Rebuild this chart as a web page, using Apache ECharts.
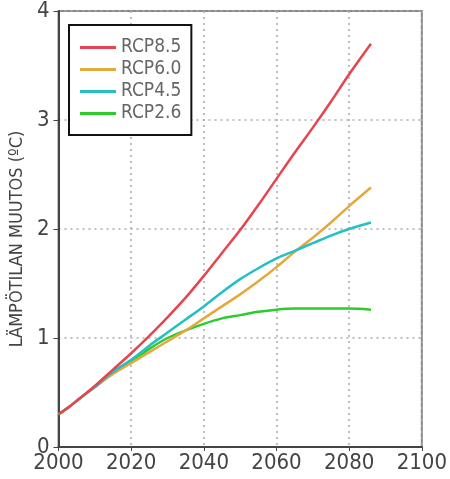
<!DOCTYPE html>
<html>
<head>
<meta charset="utf-8">
<script src="https://cdn.jsdelivr.net/npm/echarts@6/dist/echarts.min.js"></script>
<style>
  html, body { margin: 0; padding: 0; background: #fff; }
  #chart { width: 450px; height: 479px; }
</style>
</head>
<body>
<div id="chart"></div>
<script>
// vuodet ja lämpötilan muutos (ºC) skenaarioittain
const years = [2000, 2003, 2006, 2010, 2015, 2020, 2025, 2030, 2035, 2040, 2045, 2050, 2055, 2060, 2065, 2070, 2075, 2080, 2086]
const rcp85 = [0.30, 0.37, 0.45, 0.56, 0.71, 0.86, 1.02, 1.19, 1.37, 1.57, 1.78, 1.99, 2.22, 2.46, 2.70, 2.93, 3.17, 3.42, 3.70]
const rcp60 = [0.30, 0.37, 0.45, 0.55, 0.67, 0.77, 0.87, 0.97, 1.07, 1.18, 1.29, 1.40, 1.52, 1.65, 1.79, 1.92, 2.06, 2.21, 2.38]
const rcp45 = [0.30, 0.37, 0.45, 0.55, 0.69, 0.80, 0.93, 1.05, 1.17, 1.29, 1.42, 1.54, 1.64, 1.73, 1.80, 1.87, 1.94, 2.00, 2.06]
const rcp26 = [0.30, 0.37, 0.45, 0.55, 0.68, 0.78, 0.90, 1.00, 1.07, 1.13, 1.18, 1.21, 1.24, 1.26, 1.27, 1.27, 1.27, 1.27, 1.26]
const yTicks = ['0', '1', '2', '3', '4']
const xTicks = ['2000', '2020', '2040', '2060', '2080', '2100']

const font = "'Liberation Sans Narrow', 'DejaVu Sans Condensed', sans-serif"

function pairs (vals) {
  return years.map((y, i) => [y, vals[i]])
}

const chart = echarts.init(document.getElementById('chart'))
chart.setOption({
  animation: false,
  color: ['#e8444f', '#e4a93c', '#25bfc6', '#2ecb2e'],
  grid: {
    left: 55,
    right: 24,
    top: 10,
    bottom: 32,
    show: true,
    borderColor: '#888',
    borderWidth: 2
  },
  legend: {
    orient: 'vertical',
    left: 69,
    top: 25,
    padding: [13, 10, 12, 11],
    itemGap: 3,
    itemWidth: 36,
    itemHeight: 3,
    icon: 'rect',
    borderColor: '#111',
    borderWidth: 2,
    backgroundColor: '#fff',
    textStyle: { fontFamily: font, fontSize: 19, color: '#666' },
    data: ['RCP8.5', 'RCP6.0', 'RCP4.5', 'RCP2.6']
  },
  xAxis: {
    type: 'value',
    min: 2000,
    max: 2100,
    interval: 20,
    axisLine: { show: true, lineStyle: { color: '#444', width: 2 } },
    axisTick: { show: true, length: 4, lineStyle: { color: '#444' } },
    axisLabel: {
      fontFamily: font,
      fontSize: 22,
      color: '#444',
      margin: 5,
      formatter: v => xTicks[(v - 2000) / 20]
    },
    splitLine: { show: true, lineStyle: { type: [2, 4], color: '#aaa', width: 1.5 } }
  },
  yAxis: {
    type: 'value',
    min: 0,
    max: 4,
    interval: 1,
    name: 'LÄMPÖTILAN MUUTOS (ºC)',
    nameLocation: 'middle',
    nameGap: 31,
    nameTextStyle: { fontFamily: font, fontSize: 18, color: '#444', padding: [0, 20, 0, 0] },
    axisLine: { show: true, lineStyle: { color: '#444', width: 2 } },
    axisTick: { show: true, length: 5, lineStyle: { color: '#444' } },
    axisLabel: {
      fontFamily: font,
      fontSize: 22,
      color: '#444',
      margin: 9,
      formatter: v => yTicks[v]
    },
    splitLine: { show: true, lineStyle: { type: [2, 4], color: '#aaa', width: 1.5 } }
  },
  series: [
    { name: 'RCP8.5', type: 'line', data: pairs(rcp85), smooth: 0.3, showSymbol: false, lineStyle: { width: 2.5 }, z: 5 },
    { name: 'RCP6.0', type: 'line', data: pairs(rcp60), smooth: 0.3, showSymbol: false, lineStyle: { width: 2.5 }, z: 3 },
    { name: 'RCP4.5', type: 'line', data: pairs(rcp45), smooth: 0.3, showSymbol: false, lineStyle: { width: 2.5 }, z: 4 },
    { name: 'RCP2.6', type: 'line', data: pairs(rcp26), smooth: 0.3, showSymbol: false, lineStyle: { width: 2.5 }, z: 2 }
  ]
})
window.addEventListener('resize', () => chart.resize())
</script>
</body>
</html>
